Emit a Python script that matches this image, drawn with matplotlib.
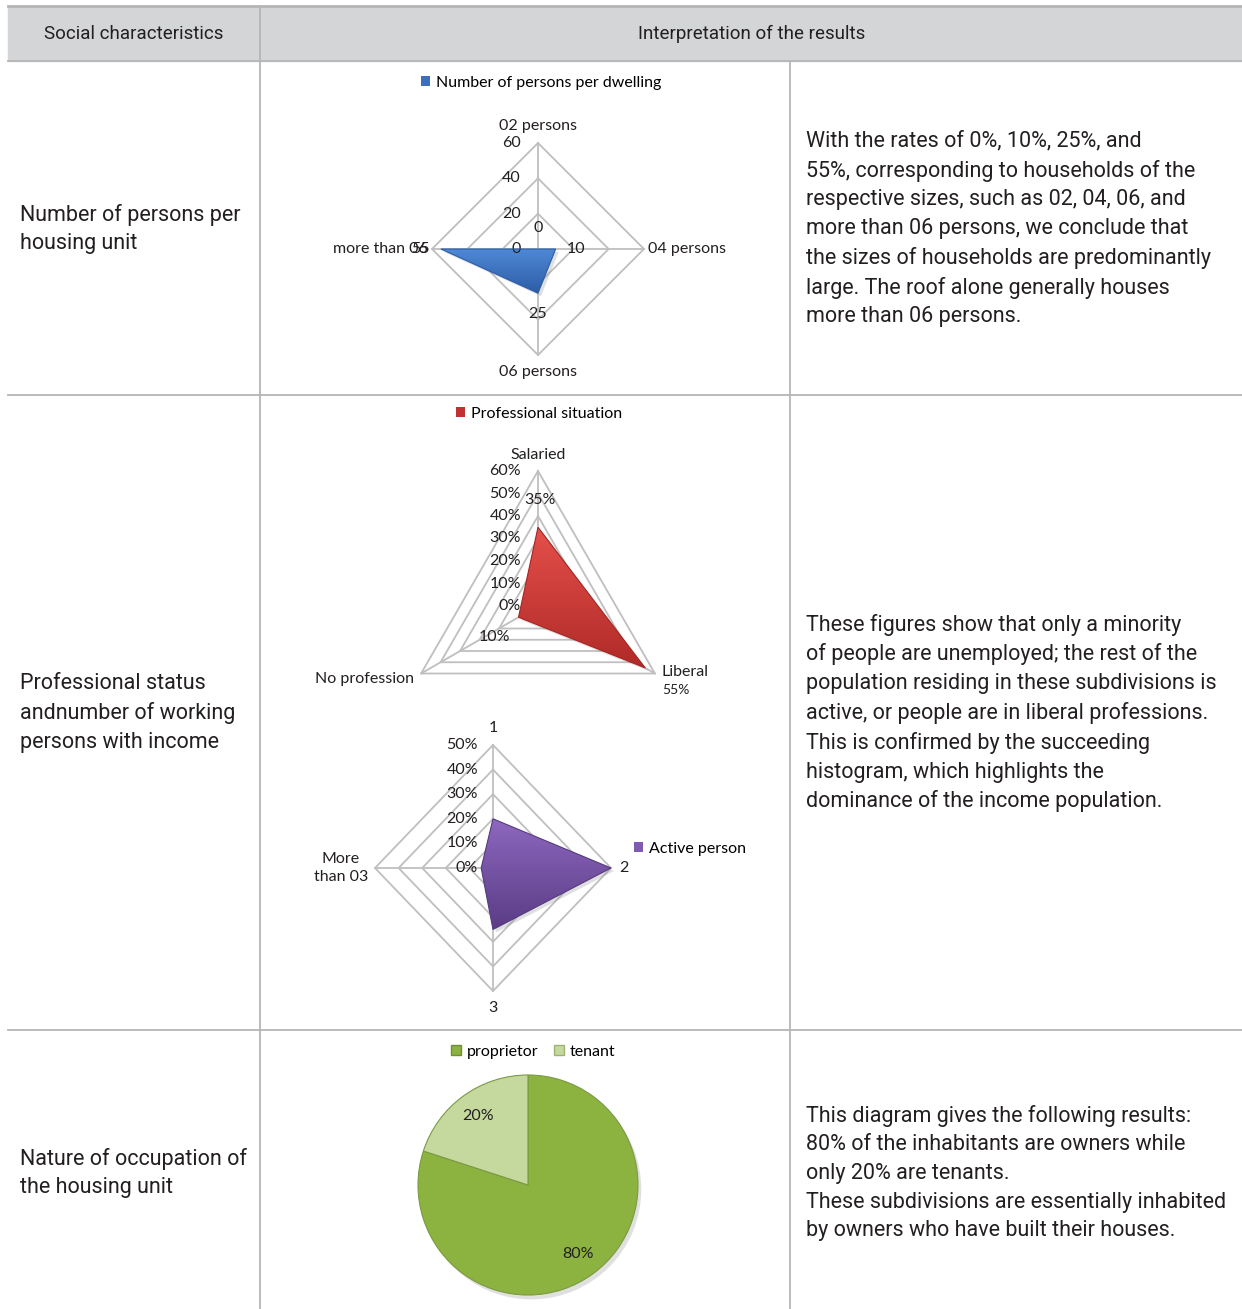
import numpy as np
import matplotlib
matplotlib.use("Agg")
import matplotlib.pyplot as plt
from matplotlib.patches import Polygon, Patch
from matplotlib.colors import LinearSegmentedColormap

# ---------------- data ----------------
header_labels = ["Social characteristics", "Interpretation of the results"]
row_labels = [
    "Number of persons per\nhousing unit",
    "Professional status\nandnumber of working\npersons with income",
    "Nature of occupation of\nthe housing unit",
]
interpretations = [
    "With the rates of 0%, 10%, 25%, and\n55%, corresponding to households of the\n"
    "respective sizes, such as 02, 04, 06, and\nmore than 06 persons, we conclude that\n"
    "the sizes of households are predominantly\nlarge. The roof alone generally houses\n"
    "more than 06 persons.",
    "These figures show that only a minority\nof people are unemployed; the rest of the\n"
    "population residing in these subdivisions is\nactive, or people are in liberal professions.\n"
    "This is confirmed by the succeeding\nhistogram, which highlights the\n"
    "dominance of the income population.",
    "This diagram gives the following results:\n80% of the inhabitants are owners while\n"
    "only 20% are tenants.\nThese subdivisions are essentially inhabited\n"
    "by owners who have built their houses.",
]

dwelling_title = "Number of persons per dwelling"
dwelling_categories = ["02 persons", "04 persons", "06 persons", "more than 06"]
dwelling_values = [0, 10, 25, 55]
dwelling_ticks = [0, 20, 40, 60]

prof_title = "Professional situation"
prof_categories = ["Salaried", "Liberal", "No profession"]
prof_values = [35, 55, 10]
prof_ticks = [0, 10, 20, 30, 40, 50, 60]

active_title = "Active person"
active_categories = ["1", "2", "3", "More\nthan 03"]
active_values = [20, 50, 25, 5]
active_ticks = [0, 10, 20, 30, 40, 50]

occupation_labels = ["proprietor", "tenant"]
occupation_values = [80, 20]

# ---------------- figure ----------------
W, H = 1242, 1309
fig = plt.figure(figsize=(W / 100, H / 100), dpi=100)
TXT = "#231f20"
GRID = "#bfbfbf"
TFONT = ["Roboto", "DejaVu Sans"]
CFONT = ["Lato", "DejaVu Sans"]
CS = 11.5  # chart font size

bg = fig.add_axes([0, 0, 1, 1])
bg.set_xlim(0, W)
bg.set_ylim(H, 0)
bg.axis("off")

# table structure
bg.fill_between([8, W], 6, 61, color="#d4d5d7", zorder=0)
bg.plot([8, W], [6, 6], color="#b4b5b7", lw=2)
for yy in [61, 395, 1030]:
    bg.plot([8, W], [yy, yy], color="#b4b5b7", lw=1.3)
bg.plot([260, 260], [6, H], color="#b4b5b7", lw=1.3)
bg.plot([790, 790], [61, H], color="#b4b5b7", lw=1.3)

bg.text(134, 34, header_labels[0], ha="center", va="center", fontsize=13.5,
        family=TFONT, color=TXT)
bg.text(752, 34, header_labels[1], ha="center", va="center", fontsize=13.5,
        family=TFONT, color=TXT)

row_centers = [229, 713, 1173]
for rc, lab, interp in zip(row_centers, row_labels, interpretations):
    bg.text(20, rc, lab, ha="left", va="center", fontsize=15.5, family=TFONT,
            color=TXT, linespacing=1.47)
    bg.text(806, rc, interp, ha="left", va="center", fontsize=15.5, family=TFONT,
            color=TXT, linespacing=1.47)


def radar_axes(cx, cy, rx, ry, rmax, half):
    ax = fig.add_axes([(cx - half) / W, 1 - (cy + half) / H, 2 * half / W, 2 * half / H])
    ax.set_xlim(-rmax * half / rx, rmax * half / rx)
    ax.set_ylim(-rmax * half / ry, rmax * half / ry)
    ax.axis("off")
    return ax


def angles_for(n):
    return np.pi / 2 - 2 * np.pi * np.arange(n) / n


def draw_radar(ax, values, ticks, c_top, c_bot, edge, rx, ry):
    n = len(values)
    th = angles_for(n)
    rmax = ticks[-1]
    for lv in ticks[1:]:
        xs = np.append(lv * np.cos(th), lv * np.cos(th[0]))
        ys = np.append(lv * np.sin(th), lv * np.sin(th[0]))
        ax.plot(xs, ys, color=GRID, lw=1.3, zorder=1)
    for t in th:
        ax.plot([0, rmax * np.cos(t)], [0, rmax * np.sin(t)], color=GRID, lw=1.3, zorder=1)
    v = np.array(values, dtype=float)
    xs = v * np.cos(th)
    ys = v * np.sin(th)
    # soft shadow
    dx = 3 * rmax / rx
    dy = -3 * rmax / ry
    ax.add_patch(Polygon(np.column_stack([xs + dx, ys + dy]), closed=True,
                         facecolor="#808080", alpha=0.25, edgecolor="none", zorder=2))
    poly = Polygon(np.column_stack([xs, ys]), closed=True, facecolor="none",
                   edgecolor=edge, lw=0.8, zorder=4)
    ax.add_patch(poly)
    grad = np.linspace(0, 1, 256)[:, None]
    cmap = LinearSegmentedColormap.from_list("g", [c_bot, c_top])
    im = ax.imshow(grad, cmap=cmap, origin="lower", aspect="auto", zorder=3,
                   extent=[xs.min(), xs.max(), ys.min(), ys.max()])
    im.set_clip_path(poly)
    return th


def legend_at(handles, labels, x, y, **kw):
    fig.legend(handles, labels, loc="center", bbox_to_anchor=(x / W, 1 - y / H),
               frameon=False, handlelength=0.6, handleheight=0.6, handletextpad=0.35,
               prop={"family": CFONT, "size": CS}, **kw)


# ---- radar 1: persons per dwelling ----
cx, cy, rx, ry = 538, 249, 106, 106
R = dwelling_ticks[-1]
ax1 = radar_axes(cx, cy, rx, ry, R, 175)
th = draw_radar(ax1, dwelling_values, dwelling_ticks, "#4f8ad6", "#2c5da6", "#2c5da6", rx, ry)
ax1.set_xlim(-R * 175 / rx, R * 175 / rx)
ax1.set_ylim(-R * 175 / ry, R * 175 / ry)
u = R / rx  # data units per pixel
for t in dwelling_ticks:
    ax1.text(-17 * u, t, str(t), ha="right", va="center", fontsize=CS, family=CFONT, color=TXT)
ax1.text(0, R + 17 * u, dwelling_categories[0], ha="center", va="center", fontsize=CS, family=CFONT, color=TXT)
ax1.text(R + 4 * u, 0, dwelling_categories[1], ha="left", va="center", fontsize=CS, family=CFONT, color=TXT)
ax1.text(0, -R - 17 * u, dwelling_categories[2], ha="center", va="center", fontsize=CS, family=CFONT, color=TXT)
ax1.text(-R - 4 * u, 0, dwelling_categories[3], ha="right", va="center", fontsize=CS, family=CFONT, color=TXT)
for t, v in zip(th, dwelling_values):
    ax1.text((v + 20 * u) * np.cos(t), (v + 21 * u) * np.sin(t), str(v), ha="center",
             va="center", fontsize=CS, family=CFONT, color=TXT, zorder=6)
legend_at([Patch(facecolor="#3a70bf")], [dwelling_title], 541, 83)

# ---- radar 2: professional situation ----
cx, cy, rx, ry = 538, 606, 135, 135
R = prof_ticks[-1]
ax2 = radar_axes(cx, cy, rx, ry, R, 175)
th = draw_radar(ax2, prof_values, prof_ticks, "#e5504b", "#b02a27", "#a52522", rx, ry)
ax2.set_xlim(-R * 175 / rx, R * 175 / rx)
ax2.set_ylim(-R * 175 / ry, R * 175 / ry)
u = R / rx
for t in prof_ticks:
    ax2.text(-17 * u, t, f"{t}%", ha="right", va="center", fontsize=CS, family=CFONT, color=TXT)
ax2.text(0, R + 16 * u, prof_categories[0], ha="center", va="center", fontsize=CS, family=CFONT, color=TXT)
ax2.text(R * np.cos(th[1]) + 7 * u, R * np.sin(th[1]) + 2 * u, prof_categories[1], ha="left",
         va="center", fontsize=CS, family=CFONT, color=TXT)
ax2.text(R * np.cos(th[1]) + 7 * u, R * np.sin(th[1]) - 17 * u, f"{prof_values[1]}%", ha="left",
         va="center", fontsize=CS - 1.5, family=CFONT, color=TXT)
ax2.text(R * np.cos(th[2]) - 7 * u, R * np.sin(th[2]) - 5 * u, prof_categories[2], ha="right",
         va="center", fontsize=CS, family=CFONT, color=TXT)
ax2.text(prof_values[0] * np.cos(th[0]) + 2 * u, prof_values[0] * np.sin(th[0]) + 27 * u,
         f"{prof_values[0]}%", ha="center", va="center", fontsize=CS, family=CFONT, color=TXT, zorder=6)
ax2.text(prof_values[2] * np.cos(th[2]) - 24 * u, prof_values[2] * np.sin(th[2]) - 20 * u,
         f"{prof_values[2]}%", ha="center", va="center", fontsize=CS, family=CFONT, color=TXT, zorder=6)
legend_at([Patch(facecolor="#c0322f")], [prof_title], 539, 414)

# ---- radar 3: active persons ----
cx, cy, rx, ry = 493, 868, 118, 123
R = active_ticks[-1]
ax3 = radar_axes(cx, cy, rx, ry, R, 160)
th = draw_radar(ax3, active_values, active_ticks, "#8e68bf", "#5a3c86", "#553a80", rx, ry)
ax3.set_xlim(-R * 160 / rx, R * 160 / rx)
ax3.set_ylim(-R * 160 / ry, R * 160 / ry)
ux, uy = R / rx, R / ry
for t in active_ticks:
    ax3.text(-15 * ux, t, f"{t}%", ha="right", va="center", fontsize=CS, family=CFONT, color=TXT, zorder=6)
ax3.text(0, R + 17 * uy, active_categories[0], ha="center", va="center", fontsize=CS, family=CFONT, color=TXT)
ax3.text(R + 8 * ux, 0, active_categories[1], ha="left", va="center", fontsize=CS, family=CFONT, color=TXT)
ax3.text(0, -R - 17 * uy, active_categories[2], ha="center", va="center", fontsize=CS, family=CFONT, color=TXT)
ax3.text(-R - 34 * ux, 0, active_categories[3], ha="center", va="center", fontsize=CS, family=CFONT,
         color=TXT, linespacing=1.4)
legend_at([Patch(facecolor="#7e5bb0")], [active_title], 690, 849)

# ---- pie: occupation ----
pcx, pcy, pr, half = 528, 1185, 110, 135
axp = fig.add_axes([(pcx - half) / W, 1 - (pcy + half) / H, 2 * half / W, 2 * half / H])
axp.set_aspect("equal")
axp.axis("off")
# shadow
axp.pie([sum(occupation_values)], radius=1.0, center=(0.03, -0.04),
        colors=["#000000"], wedgeprops={"alpha": 0.12, "linewidth": 0})
wedges, _, autotexts = axp.pie(
    occupation_values, startangle=90, counterclock=False, radius=1.0,
    colors=["#8cb23f", "#c5d99e"], autopct="%d%%", pctdistance=0.77,
    wedgeprops={"edgecolor": "#7b9a44", "linewidth": 0.8},
    textprops={"family": CFONT, "size": CS, "color": TXT})
axp.set_xlim(-half / pr, half / pr)
axp.set_ylim(-half / pr, half / pr)
legend_at([Patch(facecolor="#8cb23f", edgecolor="#6f8f33"), Patch(facecolor="#c5d99e", edgecolor="#9cb46f")],
          occupation_labels, 533, 1052, ncol=2, columnspacing=1.0)

fig.savefig("out.png", dpi=100)
